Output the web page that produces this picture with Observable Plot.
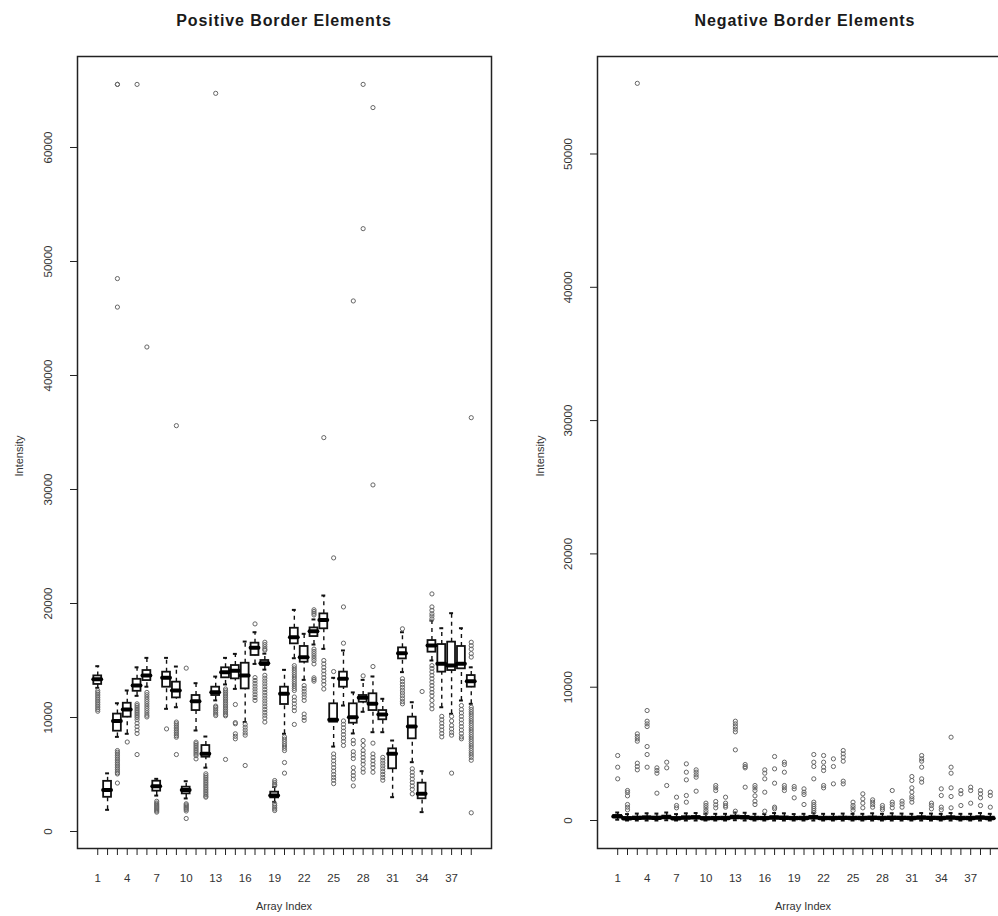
<!DOCTYPE html>
<html><head><meta charset="utf-8">
<script src="https://cdn.jsdelivr.net/npm/d3@7"></script>
<script src="https://cdn.jsdelivr.net/npm/@observablehq/plot@0.6"></script>
<style>
body{margin:0;background:#fff;}
#root{position:relative;width:998px;height:916px;overflow:hidden;background:#fff;font-family:"Liberation Sans",Arial,sans-serif;color:#222;}
.panel{position:absolute;top:0;width:520px;height:916px;}
.panel svg{max-width:none !important;}
.title{position:absolute;top:12px;font-weight:bold;font-size:16px;letter-spacing:0.9px;transform:translateX(-50%);white-space:nowrap;color:#1a1a1a;}
.xlab{position:absolute;top:900px;font-size:11px;transform:translateX(-50%);white-space:nowrap;color:#333;}
.ylab{position:absolute;top:456px;font-size:11px;transform:translate(-50%,-50%) rotate(-90deg);white-space:nowrap;color:#333;}
</style>
</head><body>
<div id="root">
  <div class="panel" id="left" style="left:0px"></div>
  <div class="panel" id="right" style="left:520px"></div>
  <div class="title" style="left:284px">Positive Border Elements</div>
  <div class="title" style="left:805px">Negative Border Elements</div>
  <div class="xlab" style="left:284px">Array Index</div>
  <div class="xlab" style="left:803px">Array Index</div>
  <div class="ylab" style="left:19px">Intensity</div>
  <div class="ylab" style="left:540px">Intensity</div>
</div>
<script>
const arrayIndex = [1,2,3,4,5,6,7,8,9,10,11,12,13,14,15,16,17,18,19,20,21,22,23,24,25,26,27,28,29,30,31,32,33,34,35,36,37,38,39];
const xTickLabels = [1,4,7,10,13,16,19,22,25,28,31,34,37];
const posYTicks = [0,10000,20000,30000,40000,50000,60000];
const negYTicks = [0,10000,20000,30000,40000,50000];

// Positive border elements: box statistics
const posQ1  = [12900,3000,8800,10030,12300,13240,3540,12660,11720,3300,10610,6520,11930,13480,13390,12510,15440,14560,2950,11140,16460,14850,17100,17780,9590,12660,9500,11340,10610,9800,5500,15140,8130,2870,15730,13980,14120,14270,12660];
const posMed = [13350,3650,9700,10700,12800,13680,3975,13480,12370,3650,11430,6810,12220,13980,14100,13680,16110,14760,3160,12075,17040,15290,17570,18560,9800,13390,10030,11730,11200,10260,6810,15640,9210,3310,16310,14710,14560,14710,13190];
const posQ3  = [13650,4400,10300,11250,13350,14120,4410,13975,13100,3890,11930,7540,12660,14360,14560,14760,16520,15000,3450,12660,17830,16230,17860,19090,11200,13980,11200,11930,12080,10610,7250,16110,10030,4240,16750,16400,16610,16230,13680];
const posLo  = [12600,1900,8300,8570,11900,12700,3150,10760,10900,2900,8860,5600,11500,12900,12510,9600,14700,14200,2600,8570,15200,13300,16400,16020,7450,11050,8600,10500,8710,8710,3010,13980,6080,1700,15000,10900,10320,11490,11200];
const posHi  = [14500,5100,11250,12370,14400,15230,4620,15230,14470,4410,13010,8330,13590,15230,15580,16660,17480,15600,3900,14180,19440,17340,18600,20700,13480,15880,12200,13300,13600,11640,7980,17480,11340,5290,18500,17830,19150,17830,14400];
const posOut = [
  [12350,12200,12050,11900,11750,11600,11450,11300,11150,11000,10850,10700,10550],
  [],
  [65535,65535,48500,46000,7100,6950,6800,6650,6500,6350,6200,6050,5900,5750,5600,5450,5300,5150,5050,4250],
  [7850],
  [65535,11200,11050,10900,10750,10600,10450,10300,10150,10000,9800,9500,9200,8900,8600,6750],
  [42500,12200,12000,11800,11600,11400,11200,11000,10800,10600,10400,10200,10050],
  [2650,2500,2400,2300,2200,2100,2000,1900,1800,1700],
  [9000],
  [35600,9600,9450,9300,9150,9000,8850,8700,8550,8400,8270,6750],
  [14330,2430,2330,2230,2130,2030,1930,1800,1140],
  [7840,7700,7550,7400,7250,7100,6950,6800,6650,6370],
  [5060,4900,4750,4600,4450,4300,4150,4000,3850,3700,3550,3400,3250,3100,3010],
  [64750,11000,10900,10750,10600,10450,10300,10170],
  [12500,12350,12200,12050,11900,11750,11600,11450,11300,11150,11000,10850,10700,10550,10400,10250,10150,6320],
  [11140,9550,9450,8570,8350,8130],
  [9400,9150,8900,8650,8450,5790],
  [18210,13500,13250,13000,12750,12500,12250,12000,11750,11500],
  [16600,16400,16200,16000,15900,13700,13450,13200,12950,12700,12450,12200,11950,11700,11450,11200,10950,10700,10450,10200,9950,9600],
  [4470,4300,4150,4030,2430,2280,2130,1980,1840],
  [8300,8100,7900,7700,7500,7300,7100,6050,5120],
  [14550,14350,14150,13950,13750,13550,13350,13150,12950,12750,12550,12370,11800,11500,11200,10900,10600,9390],
  [12800,12550,12300,12050,11800,11500,10300,10000,9750],
  [19450,19300,19150,19000,16000,15800,15600,15400,15200,15000,14700,13480,13330,13190],
  [34550,15000,14700,14400,14100,13800,13500,13200,12900,12500],
  [24000,14030,6800,6500,6200,5900,5600,5300,5000,4750,4500,4200],
  [19700,16520,9700,9400,9100,8800,8500,8200,7900,7550],
  [46540,8000,7700,7000,6700,6400,5600,5200,4900,4600,4000],
  [65535,52880,13650,7980,7550,7100,6800,6500,6200,5900,5500,5200],
  [63500,30400,14470,7750,6800,6500,6200,5900,5600,5200],
  [6500,6250,6000,5750,5500,5250,5000,4750,4500],
  [],
  [17780,13400,13150,12900,12650,12400,12150,11900,11650,11400,11200],
  [5500,5200,4900,4600,4300,4000,3700,3300],
  [12280],
  [20840,19700,19400,19100,18900,18650,14550,14300,14000,13700,13400,13100,12800,12500,12200,11900,11500,11100,10760],
  [10100,9800,9500,9200,8900,8600,8300],
  [10100,9700,9300,9000,8700,8450,5120],
  [11050,10700,10400,10100,9800,9500,9200,8900,8600,8300,8130],
  [36300,16600,16300,16000,15600,15300,10900,10700,10500,10300,10100,9900,9700,9500,9300,9100,8900,8700,8500,8300,8100,7900,7700,7500,7300,7100,6900,6700,6500,6250,1640]
];

// Negative border elements: box statistics
const negMed = [300,150,180,200,180,250,150,200,220,150,160,170,250,230,170,160,210,190,160,170,230,170,170,180,170,170,190,170,190,180,170,200,180,170,200,170,170,200,170];
const negQ1  = [220,70,100,120,100,170,70,120,140,70,80,90,170,150,90,80,130,110,80,90,150,90,90,100,90,90,110,90,110,100,90,120,100,90,120,90,90,120,90];
const negQ3  = [380,230,260,280,260,330,230,280,300,230,240,250,330,310,250,240,290,270,240,250,310,250,250,260,250,250,270,250,270,260,250,280,260,250,280,250,250,280,250];
const negLo  = [60,0,0,0,0,20,0,0,0,0,0,0,20,0,0,0,0,0,0,0,0,0,0,0,0,0,0,0,0,0,0,0,0,0,0,0,0,0,0];
const negHi  = [600,480,520,540,520,600,480,540,560,480,500,500,600,580,500,480,560,540,480,500,580,500,500,520,500,500,540,500,540,520,500,560,520,500,560,500,500,560,500];
const negOut = [
  [4875,4000,3125],
  [2250,2100,1850,1200,1000,800],
  [55300,6500,6300,6125,5950,4300,4050,3800],
  [8250,7450,7250,7050,5550,4950,4000],
  [3950,3750,3550,2050],
  [4375,3950,2625],
  [1750,1125,950],
  [4250,3625,3050,1875,1375],
  [3800,3625,3425,3250,2200],
  [1300,1125,950,750,575],
  [2625,2450,2250,1425,1175,950],
  [1750,1300,1125,1000],
  [7450,7250,7050,6850,6650,5300,700],
  [4200,4050,3950,2500],
  [2625,2450,2250,1850,1450,1200],
  [3800,3550,3125,2125,700],
  [4800,3875,2800,1000,875],
  [4375,4200,3625,2625,2450,2250],
  [2550,2375,1700],
  [2375,2125,1950,1200],
  [4950,4375,4050,3125,1375,1200,1050,900,750,600],
  [4875,4375,4000,3750,2625,2450],
  [4625,4050,2750],
  [5250,5000,4750,4450,2950,2750],
  [1375,1125,950,750],
  [2000,1625,1300,950],
  [1550,1375,1200,1000],
  [1125,950,800],
  [2250,1375,1200,950],
  [1450,1250,1000],
  [3300,3000,2450,2125,1800,1625,1375],
  [4875,4625,4450,4000,3125,2875],
  [1300,1125,875],
  [2375,1875,1000,800],
  [6250,4000,3550,2450,1800,950],
  [2250,2000,1125],
  [2500,2250,1300],
  [2250,2000,1700,1125],
  [2125,1875,1000]
];

function panel({q1, med, q3, lo, hi, outs, yDomain, yTicks, marginRight}) {
  const boxes = arrayIndex.map((x, k) => ({x, q1: q1[k], med: med[k], q3: q3[k], lo: lo[k], hi: hi[k]}));
  const pts = arrayIndex.flatMap((x, k) => outs[k].map(v => ({x, v})));
  const labelSet = new Set(xTickLabels);
  return Plot.plot({
    width: 520, height: 916,
    marginLeft: 77, marginRight, marginTop: 56, marginBottom: 68,
    style: {fontFamily: '"Liberation Sans", Arial, sans-serif', fontSize: "11.5px", color: "#333", background: "transparent", maxWidth: "none"},
    x: {type: "linear", domain: [-1.06, 41.06]},
    y: {domain: yDomain},
    marks: [
      Plot.ruleX(boxes, {x: "x", y1: "q3", y2: "hi", stroke: "#111", strokeWidth: 1.4, strokeDasharray: "4,4"}),
      Plot.ruleX(boxes, {x: "x", y1: "lo", y2: "q1", stroke: "#111", strokeWidth: 1.4, strokeDasharray: "4,4"}),
      Plot.ruleY(boxes, {y: "hi", x1: d => d.x - 0.2, x2: d => d.x + 0.2, stroke: "#111", strokeWidth: 2}),
      Plot.ruleY(boxes, {y: "lo", x1: d => d.x - 0.2, x2: d => d.x + 0.2, stroke: "#111", strokeWidth: 2}),
      Plot.rect(boxes, {x1: d => d.x - 0.4, x2: d => d.x + 0.4, y1: "q1", y2: "q3", fill: "white", stroke: "#111", strokeWidth: 1.8}),
      Plot.ruleY(boxes, {y: "med", x1: d => d.x - 0.4, x2: d => d.x + 0.4, stroke: "#000", strokeWidth: 4, strokeLinecap: "round"}),
      Plot.dot(pts, {x: "x", y: "v", r: 2.1, stroke: "#666", strokeWidth: 1, fill: "none"}),
      Plot.frame({stroke: "#222", strokeWidth: 1.5}),
      Plot.axisY({ticks: yTicks, tickSize: 7, tickPadding: 19, tickRotate: -90, tickFormat: d => String(d), label: null, stroke: "#222"}),
      Plot.axisX({ticks: arrayIndex, tickSize: 7, tickPadding: 18, tickFormat: d => labelSet.has(d) ? String(d) : "", label: null, stroke: "#222"})
    ]
  });
}

document.getElementById("left").append(panel({
  q1: posQ1, med: posMed, q3: posQ3, lo: posLo, hi: posHi, outs: posOut,
  yDomain: [-1491, 67982], yTicks: posYTicks, marginRight: 29
}));
document.getElementById("right").append(panel({
  q1: negQ1, med: negMed, q3: negQ3, lo: negLo, hi: negHi, outs: negOut,
  yDomain: [-2100, 57314], yTicks: negYTicks, marginRight: 30
}));
</script>
</body></html>
